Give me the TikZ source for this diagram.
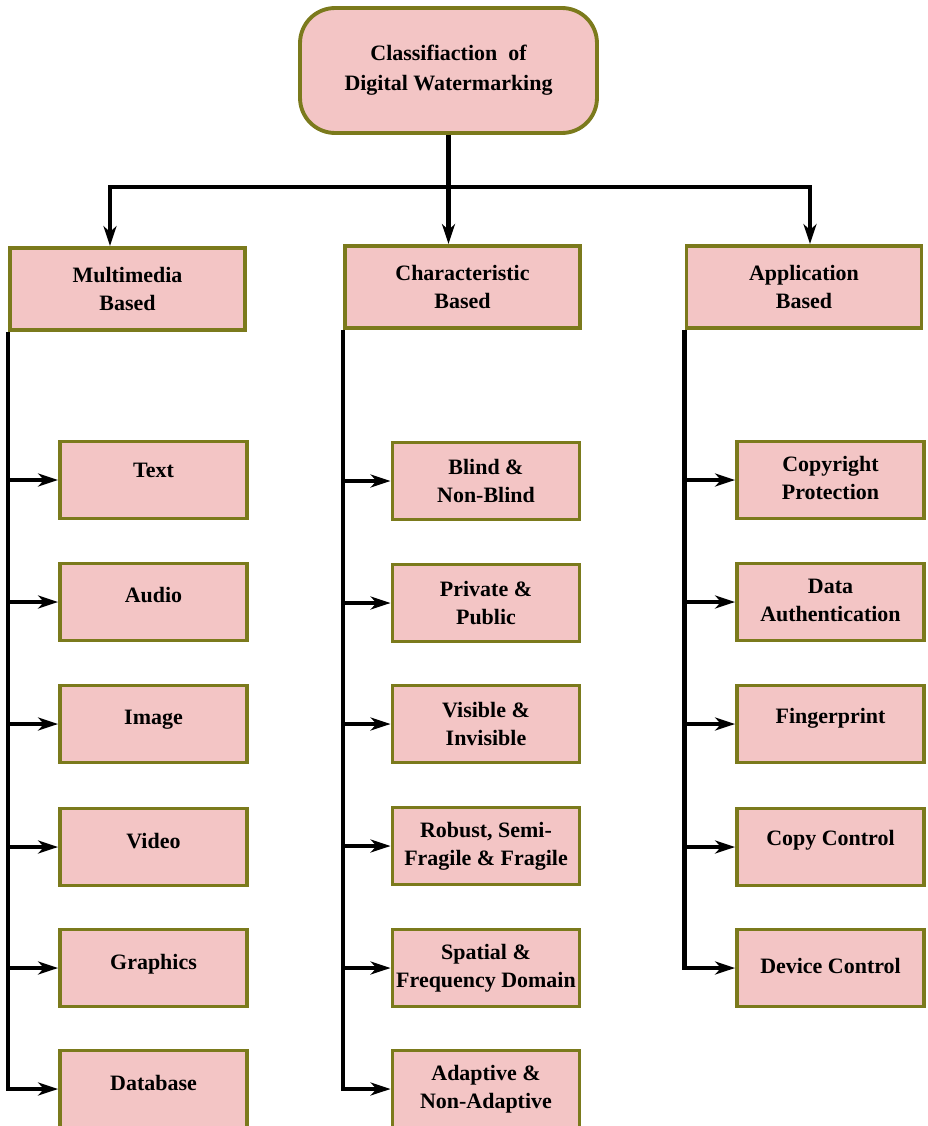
\documentclass[tikz,border=0pt]{standalone}
\usepackage{fontspec}
\setmainfont{Liberation Serif}
\usetikzlibrary{arrows.meta, calc}
\definecolor{boxPink}{HTML}{F3C5C5}
\definecolor{boxOlive}{HTML}{7B7A1C}
\tikzset{
  baseBox/.style={draw=boxOlive, fill=boxPink, line width=2.2pt, align=center,
    font=\bfseries\fontsize{12.5}{16}\selectfont, inner sep=2pt},
  % --- caixas por nivel ---
  rootBox/.style={baseBox, rounded corners=7mm, minimum width=59.4mm, minimum height=25mm,
    font=\bfseries\fontsize{12.5}{17}\selectfont},
  headBox/.style={baseBox, minimum width=47mm, minimum height=16.4mm},
  leafBox/.style={baseBox, minimum width=37.4mm, minimum height=15.4mm},
  % --- ligacoes ---
  linkLine/.style={line width=2.4pt, draw=black},
  linkArrow/.style={linkLine, -{Stealth[length=4mm, width=2.6mm, inset=1.2mm]}}
}

\begin{document}
\begin{tikzpicture}[x=0.02cm, y=-0.02cm]
  \useasboundingbox (0,0) rectangle (928,1126);

  %% --- RAIZ ---
  \node[rootBox] (root) at (448.5,70.5) {Classifiaction\ \ of\\Digital Watermarking};

  %% --- NIVEL 1 ---
  \node[headBox] (mmHead) at (127.5,289) {Multimedia\\Based};
  \node[headBox] (chHead) at (462.5,287) {Characteristic\\Based};
  \node[headBox] (apHead) at (804,287) {Application\\Based};

  % Pontos de chegada das setas
  \coordinate (split) at ($(root.south)+(0,52)$);
  \coordinate (mmIn) at ($(mmHead.north)+(-17.5,0)$);
  \coordinate (apIn) at ($(apHead.north)+(6,0)$);

  \draw[linkLine] (root.south) -- (split);
  \draw[linkArrow] (split) -| (mmIn);
  \draw[linkArrow] (split) -| (apIn);
  \draw[linkArrow] (split) -- (split |- chHead.north);

  %% --- FOLHAS: MULTIMEDIA ---
  % (texto de uma linha fica um pouco acima do centro)
  \foreach \i/\y/\lift/\txt in {1/480/11pt/Text, 2/602/8pt/Audio, 3/724/8pt/Image,
                                4/847/7pt/Video, 5/968/7pt/Graphics, 6/1089/7pt/Database} {
    \node[leafBox, text depth=\lift] (mm\i) at (153.5,\y) {\txt};
  }
  \foreach \i in {1,...,5} {
    \draw[linkArrow] (mmHead.south west |- mm\i.west) -- (mm\i.west);
  }
  \draw[linkArrow] (mmHead.south west) |- (mm6.west);

  %% --- FOLHAS: CHARACTERISTIC ---
  \foreach \i/\y/\txt in {1/481/{Blind \&\\Non-Blind},
                          2/603/{Private \&\\Public},
                          3/724/{Visible \&\\Invisible},
                          4/846/{Robust, Semi-\\Fragile \& Fragile},
                          5/968/{Spatial \&\\Frequency Domain},
                          6/1089/{Adaptive \&\\Non-Adaptive}} {
    \node[leafBox] (ch\i) at (486,\y) {\txt};
  }
  \foreach \i in {1,...,5} {
    \draw[linkArrow] (chHead.south west |- ch\i.west) -- (ch\i.west);
  }
  \draw[linkArrow] (chHead.south west) |- (ch6.west);

  %% --- FOLHAS: APPLICATION ---
  \foreach \i/\y/\lift/\txt in {1/480/2pt/{Copyright\\Protection},
                                2/602/2pt/{Data\\Authentication},
                                3/724/9pt/Fingerprint,
                                4/847/10pt/Copy Control,
                                5/968/2pt/Device Control} {
    \node[leafBox, text depth=\lift] (ap\i) at (830.5,\y) {\txt};
  }
  \foreach \i in {1,...,4} {
    \draw[linkArrow] (apHead.south west |- ap\i.west) -- (ap\i.west);
  }
  \draw[linkArrow] (apHead.south west) |- (ap5.west);

\end{tikzpicture}
\end{document}
